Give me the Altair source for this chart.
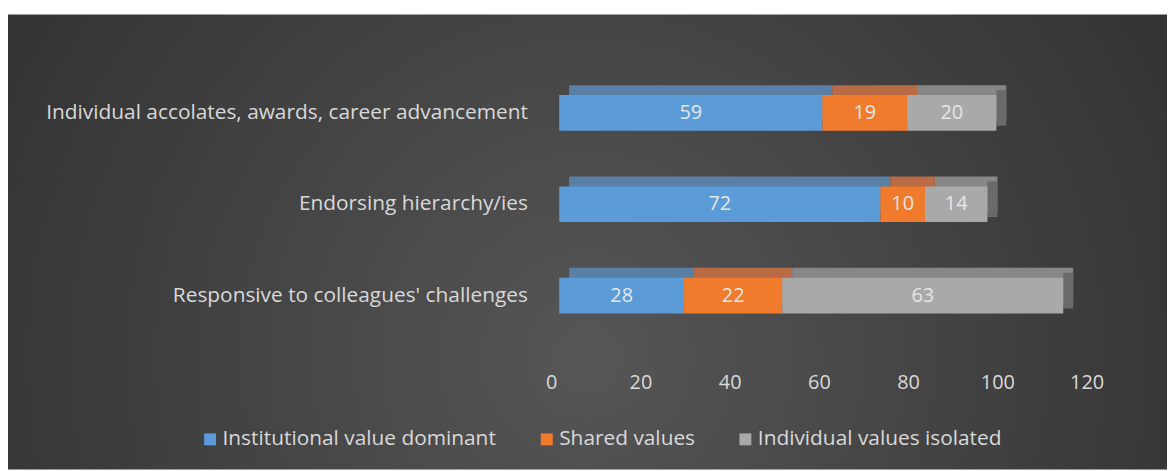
import altair as alt
import pandas as pd

categories = [
    "Individual accolates, awards, career advancement",
    "Endorsing hierarchy/ies",
    "Responsive to colleagues' challenges",
]
series = ["Institutional value dominant", "Shared values", "Individual values isolated"]
institutional = [59, 72, 28]
shared = [19, 10, 22]
individual = [20, 14, 63]
x_ticks = [0, 20, 40, 60, 80, 100, 120]

front_colors = ["#5b9bd8", "#f07b2c", "#a9a9a9"]
top_colors = ["#5a7fa6", "#b86b44", "#878787"]

rows = []
for s_i, (name, vals) in enumerate(zip(series, [institutional, shared, individual])):
    for c, v in zip(categories, vals):
        rows.append({"category": c, "series": name, "idx": s_i, "value": v})
df = pd.DataFrame(rows)

FONT = "Open Sans"
TXT = "#d9d9d9"
W, H = 539, 276
PL, PT, PR, PB = 555, 58, 73, 129

yscale = alt.Scale(domain=categories, paddingInner=0.61, paddingOuter=0.305)
xscale = alt.Scale(domain=[0, 120], nice=False)

yaxis = alt.Axis(title=None, domain=False, ticks=False, labelFont=FONT, zindex=2,
                 labelFontSize=21, labelColor=TXT, labelPadding=32, labelLimit=600)
xaxis = alt.Axis(title=None, domain=False, ticks=False, grid=False, values=x_ticks, zindex=2,
                 labelFont=FONT, labelFontSize=20, labelColor=TXT, labelFlush=False,
                 labelPadding=32, labelOffset=-8)

bg = alt.Chart(alt.Data(values=[{}])).mark_rect(
    color={
        "gradient": "radial",
        "x1": 0.5, "y1": 0.6, "r1": 0,
        "x2": 0.5, "y2": 0.6, "r2": 0.75,
        "stops": [
            {"offset": 0, "color": "#565656"},
            {"offset": 1, "color": "#282828"},
        ],
    }
).encode(
    x=alt.value(-PL - 1), x2=alt.value(W + PR),
    y=alt.value(-PT + 5), y2=alt.value(H + PB),
)

base = alt.Chart(df)

top = base.mark_bar(xOffset=10, x2Offset=10, yOffset=-10, y2Offset=-10).encode(
    y=alt.Y("category:N", scale=yscale, sort=categories, axis=yaxis),
    x=alt.X("sum(value):Q", scale=xscale, stack="zero", axis=xaxis),
    color=alt.Color("series:N", scale=alt.Scale(domain=series, range=top_colors), legend=None),
    order=alt.Order("idx:Q", sort="ascending"),
)

side = base.transform_aggregate(total="sum(value)", groupby=["category"]).mark_bar(
    color="#6a6a6a", x2Offset=10, yOffset=-5, y2Offset=-5
).encode(
    y=alt.Y("category:N", scale=yscale, sort=categories, axis=yaxis),
    x=alt.X("total:Q", scale=xscale, axis=xaxis),
    x2="total:Q",
)

front = base.mark_bar().encode(
    y=alt.Y("category:N", scale=yscale, sort=categories, axis=yaxis),
    x=alt.X("sum(value):Q", scale=xscale, stack="zero", axis=xaxis),
    color=alt.Color("series:N", scale=alt.Scale(domain=series, range=front_colors),
                    legend=alt.Legend(title=None, orient="none", legendX=-362, legendY=364,
                                      direction="horizontal", symbolType="square",
                                      symbolSize=144, symbolStrokeWidth=0,
                                      labelFont=FONT, labelFontSize=21, labelColor=TXT,
                                      labelOffset=2, columnPadding=40, labelLimit=400)),
    order=alt.Order("idx:Q", sort="ascending"),
)

labels = base.transform_stack(
    stack="value", groupby=["category"], sort=[alt.SortField("idx", order="ascending")],
    as_=["v0", "v1"],
).transform_calculate(mid="(datum.v0 + datum.v1) / 2").mark_text(
    font=FONT, fontSize=20, color="#e6e6e6"
).encode(
    y=alt.Y("category:N", scale=yscale, sort=categories, axis=yaxis),
    x=alt.X("mid:Q", scale=xscale, axis=xaxis),
    text="value:Q",
)

chart = alt.layer(bg, top, side, front, labels).resolve_scale(color="independent").properties(
    width=W, height=H,
    autosize=alt.AutoSizeParams(type="none"),
    padding={"left": PL, "top": PT, "right": PR, "bottom": PB},
    background="white",
).configure_view(strokeWidth=0)

chart.save("out.html", embed_options={"renderer": "svg", "actions": False})
